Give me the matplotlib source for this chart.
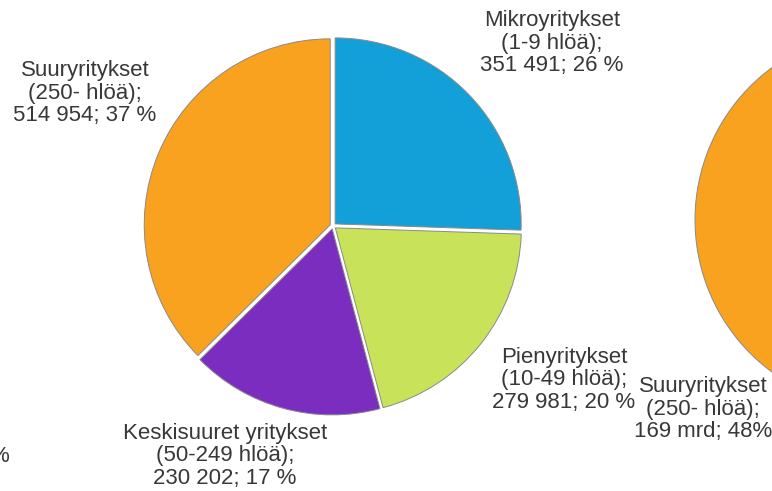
import matplotlib.pyplot as plt

plt.rcParams['font.family'] = ['Liberation Sans', 'DejaVu Sans']

# Yritysten henkilöstö kokoluokittain (keskimmäinen ympyrä)
koot = ['Mikroyritykset', 'Pienyritykset', 'Keskisuuret yritykset', 'Suuryritykset']
ryhmat = ['(1-9 hlöä);', '(10-49 hlöä);', '(50-249 hlöä);', '(250- hlöä);']
henkilosto = [351491, 279981, 230202, 514954]
osuudet = [26, 20, 17, 37]

# Oikea ympyrä (liikevaihto, mrd) - vain suuryritykset näkyy kuvassa
liikevaihto = [57, 56, 70, 169]
liikevaihto_osuus = [16, 16, 20, 48]

varit = ['#139FD8', '#C8E35A', '#7A2DBF', '#F8A21F']
H = 491

def fmt(n):
    return f'{n:,}'.replace(',', ' ')

fig = plt.figure(figsize=(7.72, 4.91), dpi=100)
ax = fig.add_axes([0, 0, 1, 1])

# Keskimmäinen ympyrä
ax.pie(henkilosto, colors=varit, startangle=90, counterclock=False,
       center=(333, H - 226), radius=186, explode=[3] * 4,
       wedgeprops=dict(edgecolor='#8a8a8a', linewidth=0.7))

# Oikea ympyrä (leikkautuu reunaan)
ax.pie(liikevaihto, colors=varit, startangle=90, counterclock=False,
       center=(887, H - 220), radius=189, explode=[3] * 4,
       wedgeprops=dict(edgecolor='#8a8a8a', linewidth=0.7))

ax.set_xlim(0, 772)
ax.set_ylim(0, H)
ax.set_aspect('equal')
ax.axis('off')

# Tekstien paikat
paikat = [(552, 43), (564, 380), (225, 456), (85, 93)]
for i, (x, y) in enumerate(paikat):
    teksti = f'{koot[i]}\n{ryhmat[i]}\n{fmt(henkilosto[i])}; {osuudet[i]} %'
    ax.text(x, H - y, teksti, ha='center', va='center', multialignment='center',
            fontsize=16, color='#383838', linespacing=1.1)

ax.text(703, H - 409, f'{koot[3]}\n{ryhmat[3]}\n{liikevaihto[3]} mrd; {liikevaihto_osuus[3]}%',
        ha='center', va='center', multialignment='center',
        fontsize=16, color='#383838', linespacing=1.1)

# Vasemman reunan leikkautunut teksti
ax.text(9, H - 457, '%', ha='right', va='center', fontsize=16, color='#383838')

fig.savefig('out.png', dpi=100)
